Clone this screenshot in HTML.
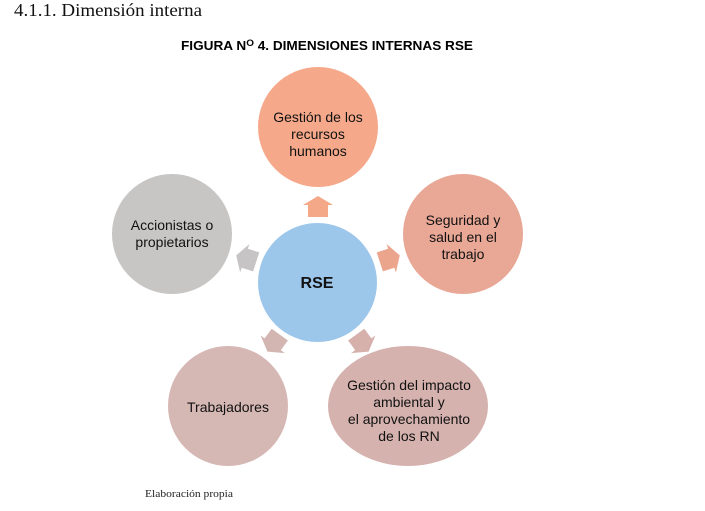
<!DOCTYPE html>
<html><head><meta charset="utf-8"><style>
body{margin:0;background:#fff;width:705px;height:511px;overflow:hidden}
svg{display:block}
</style></head><body>
<svg width="705" height="511" xmlns="http://www.w3.org/2000/svg">
<text x="14" y="16" font-family="Liberation Serif, serif" font-size="18" fill="#111" textLength="188" lengthAdjust="spacingAndGlyphs">4.1.1.  Dimensión interna</text>
<text x="181" y="50" font-family="Liberation Sans, sans-serif" font-size="13" font-weight="bold" fill="#000" textLength="292" lengthAdjust="spacingAndGlyphs">FIGURA N<tspan dy="-4" font-size="9.5">O</tspan><tspan dy="4"> 4. DIMENSIONES INTERNAS RSE</tspan></text>
<g id="arrows">
<polygon points="0,-86 15,-77 10,-77 10,-65 -10,-65 -10,-77 -15,-77" fill="#f4a887" transform="translate(318,282)"/>
<polygon points="0,-86 15,-77 10,-77 10,-65 -10,-65 -10,-77 -15,-77" fill="#eca58d" transform="translate(318,282) rotate(72)"/>
<polygon points="0,-86 15,-77 10,-77 10,-65 -10,-65 -10,-77 -15,-77" fill="#d6b0ab" transform="translate(318,282) rotate(144)"/>
<polygon points="0,-86 15,-77 10,-77 10,-65 -10,-65 -10,-77 -15,-77" fill="#d3b6b2" transform="translate(318,282) rotate(216)"/>
<polygon points="0,-86 15,-77 10,-77 10,-65 -10,-65 -10,-77 -15,-77" fill="#c6c4c4" transform="translate(318,282) rotate(288)"/>
</g>
<circle cx="318" cy="127" r="60" fill="#f5a98a"/>
<circle cx="463" cy="234" r="60" fill="#e9a796"/>
<ellipse cx="408" cy="406" rx="80" ry="60" fill="#d5b2ae"/>
<circle cx="228" cy="406" r="60" fill="#d5b8b4"/>
<circle cx="172" cy="234" r="60" fill="#c8c5c5"/>
<circle cx="317.5" cy="282.5" r="59.5" fill="#9cc6ea"/>
<g font-family="Liberation Sans, sans-serif" font-size="14" fill="#111" text-anchor="middle">
<text x="318" y="122">Gestión de los</text>
<text x="318" y="139">recursos</text>
<text x="318" y="156">humanos</text>
<text x="463" y="225">Seguridad y</text>
<text x="463" y="242">salud en el</text>
<text x="463" y="259">trabajo</text>
<text x="172" y="230">Accionistas o</text>
<text x="172" y="247">propietarios</text>
<text x="228" y="412">Trabajadores</text>
<text x="409" y="390">Gestión del impacto</text>
<text x="409" y="407">ambiental y</text>
<text x="409" y="424">el aprovechamiento</text>
<text x="409" y="441">de los RN</text>
<text x="317" y="288" font-size="16" font-weight="bold">RSE</text>
</g>
<text x="145" y="497" font-family="Liberation Serif, serif" font-size="11" fill="#222" textLength="88" lengthAdjust="spacingAndGlyphs">Elaboración propia</text>
</svg>
</body></html>
